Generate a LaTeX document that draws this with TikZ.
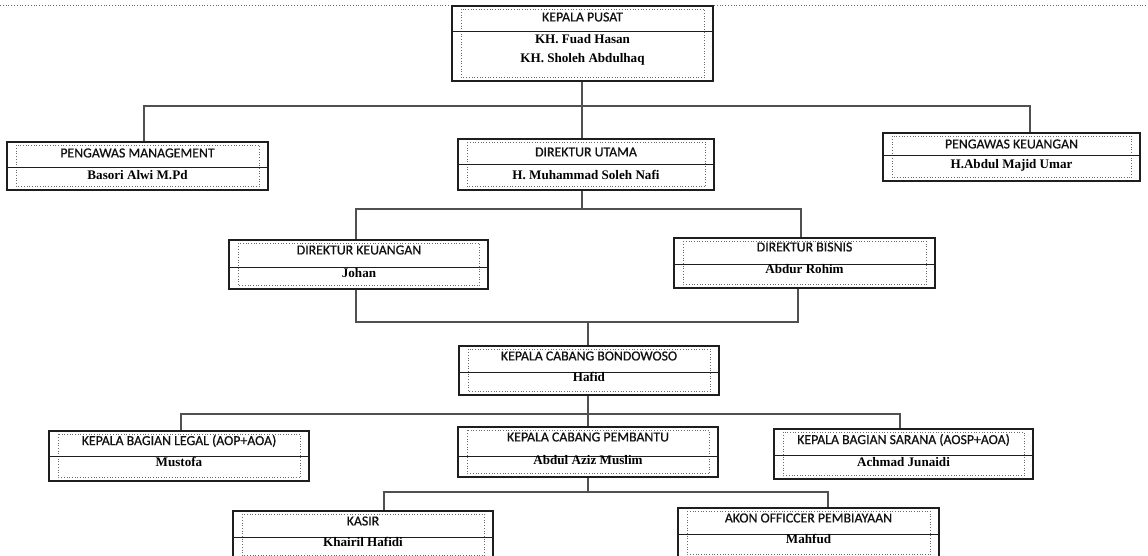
\documentclass[tikz,border=0pt]{standalone}
\usepackage{fontspec}
\setmainfont{Liberation Serif}
\setsansfont{Carlito}
\newfontfamily\rolefont[FakeBold=0.7]{Carlito}
\usepackage{tikz}
\usetikzlibrary{positioning,calc,backgrounds}
\definecolor{orgLine}{HTML}{505050}
\definecolor{orgFrame}{HTML}{1E1E1E}
\definecolor{orgDot}{HTML}{6A6A6A}
\definecolor{orgText}{HTML}{111111}
\tikzset{
  unitbox/.style={draw=orgFrame, fill=white, line width=1.2pt, minimum width=260pt,
                  minimum height=50pt, inner sep=0pt},
  innerframe/.style={draw=orgDot, dotted, line width=0.7pt},
  divline/.style={draw=orgFrame, line width=1pt},
  linkline/.style={draw=orgLine, line width=1.2pt},
  roletext/.style={font=\rolefont\fontsize{13.8}{15}\selectfont, text=orgText, inner sep=0pt},
  nametext/.style={font=\bfseries\fontsize{13.1}{15}\selectfont, inner sep=0pt},
  pagerule/.style={draw=orgDot, dotted, line width=0.8pt},
}

\begin{document}
\begin{tikzpicture}[x=1pt,y=-1pt]
\useasboundingbox (0,0) rectangle (1148,556);
\clip (0,0) rectangle (1148,556);
%% Boxes
\node[unitbox, minimum width=261pt, minimum height=75pt] (kp)     at (582.5,43.5) {};
\node[unitbox, minimum width=261pt, minimum height=48pt] (mgmt)   at (137.5,166)  {};
\node[unitbox, minimum width=256pt, minimum height=51pt] (dirut)  at (586,164.5)  {};
\node[unitbox, minimum width=257pt, minimum height=48pt] (pkeu)   at (1011.5,157) {};
\node[unitbox, minimum width=259pt, minimum height=49pt] (dirkeu) at (358.5,264.5) {};
\node[unitbox, minimum width=261pt, minimum height=50pt] (bisnis) at (804.5,263)  {};
\node[unitbox, minimum width=260pt, minimum height=49pt] (kcb)    at (589,370.5)  {};
\node[unitbox] (legal)  at (179,456)   {};
\node[unitbox] (kcp)    at (588,452)   {};
\node[unitbox, minimum width=259pt] (sarana) at (903.5,454) {};
\node[unitbox, minimum height=48pt] (kasir)  at (363,535) {};
\node[unitbox, minimum width=261pt] (akon)   at (808.5,533) {};
%% Inner frames and dividers
\foreach \b in {kp,mgmt,dirut,pkeu,dirkeu,bisnis,kcb,legal,kcp,sarana,kasir,akon}
  \draw[innerframe] ([xshift=10pt,yshift=-4pt]\b.north west) rectangle ([xshift=-9pt,yshift=4pt]\b.south east);
\foreach \b/\d in {kp/32,mgmt/168,dirut/165,pkeu/156,dirkeu/267,bisnis/264,kcb/372,
                   legal/456,kcp/456,sarana/455,kasir/537,akon/534}
  \draw[divline] (\b.west |- 0,\d) -- (\b.east |- 0,\d);
%% Texts
\node[roletext] (kp-role)   at (582.5,17) {KEPALA PUSAT};
\node[nametext] (kp-name)   at (582.5,39) {KH. Fuad Hasan};
\node[nametext] (kp-name2)  at (582.5,59) {KH. Sholeh Abdulhaq};
\node[roletext] (mgmt-role) at (137.5,153) {PENGAWAS MANAGEMENT};
\node[nametext] (mgmt-name) at (137.5,175) {Basori Alwi M.Pd};
\node[roletext] (dirut-role) at (586,152) {DIREKTUR UTAMA};
\node[nametext] (dirut-name) at (586,175) {H. Muhammad Soleh Nafi};
\node[roletext] (pkeu-role) at (1011.5,144) {PENGAWAS KEUANGAN};
\node[nametext] (pkeu-name) at (1011.5,165) {H.Abdul Majid Umar};
\node[roletext] (dirkeu-role) at (359,250) {DIREKTUR KEUANGAN};
\node[nametext] (dirkeu-name) at (359,273) {Johan};
\node[roletext] (bisnis-role) at (804.5,247) {DIREKTUR BISNIS};
\node[nametext] (bisnis-name) at (804.5,269) {Abdur Rohim};
\node[roletext] (kcb-role) at (589,356) {KEPALA CABANG BONDOWOSO};
\node[nametext] (kcb-name) at (589,377) {Hafid};
\node[roletext] (legal-role) at (179,441) {KEPALA BAGIAN LEGAL (AOP+AOA)};
\node[nametext] (legal-name) at (179,462) {Mustofa};
\node[roletext] (kcp-role) at (588,437) {KEPALA CABANG PEMBANTU};
\node[nametext] (kcp-name) at (588,460) {Abdul Aziz Muslim};
\node[roletext] (sarana-role) at (903.5,440) {KEPALA BAGIAN SARANA (AOSP+AOA)};
\node[nametext] (sarana-name) at (903.5,462) {Achmad Junaidi};
\node[roletext] (kasir-role) at (363,521) {KASIR};
\node[nametext] (kasir-name) at (363,542) {Khairil Hafidi};
\node[roletext] (akon-role) at (808.5,518) {AKON OFFICCER PEMBIAYAAN};
\node[nametext] (akon-name) at (808.5,539) {Mahfud};
%% Connectors
\begin{scope}[on background layer]
\coordinate (ruleL) at (0,5);
\coordinate (ruleR) at (1148,5);
\draw[pagerule] (ruleL) -- (ruleR);
\coordinate (busA) at (582,106);
\draw[linkline] (kp.south -| busA) -- (dirut.north -| busA);
\draw[linkline] ([xshift=6.5pt]mgmt.north) |- (busA) -| ([xshift=18.5pt]pkeu.north);
\coordinate (busB) at (582,209);
\draw[linkline] (dirut.south -| busB) -- (busB);
\draw[linkline] ([xshift=-2.5pt]dirkeu.north) |- (busB) -| ([xshift=-3.5pt]bisnis.north);
\coordinate (busC) at (588,322);
\draw[linkline] ([xshift=-2.5pt]dirkeu.south) |- (busC) -| ([xshift=-6.5pt]bisnis.south);
\draw[linkline] (busC) -- (kcb.north -| busC);
\coordinate (busD) at (588,414);
\draw[linkline] (kcb.south -| busD) -- (kcp.north -| busD);
\draw[linkline] ([xshift=2pt]legal.north) |- (busD) -| ([xshift=-3.5pt]sarana.north);
\coordinate (busE) at (588,492);
\draw[linkline] (kcp.south -| busE) -- (busE);
\draw[linkline] ([xshift=21pt]kasir.north) |- (busE) -| ([xshift=19.5pt]akon.north);
\end{scope}
\end{tikzpicture}
\end{document}
